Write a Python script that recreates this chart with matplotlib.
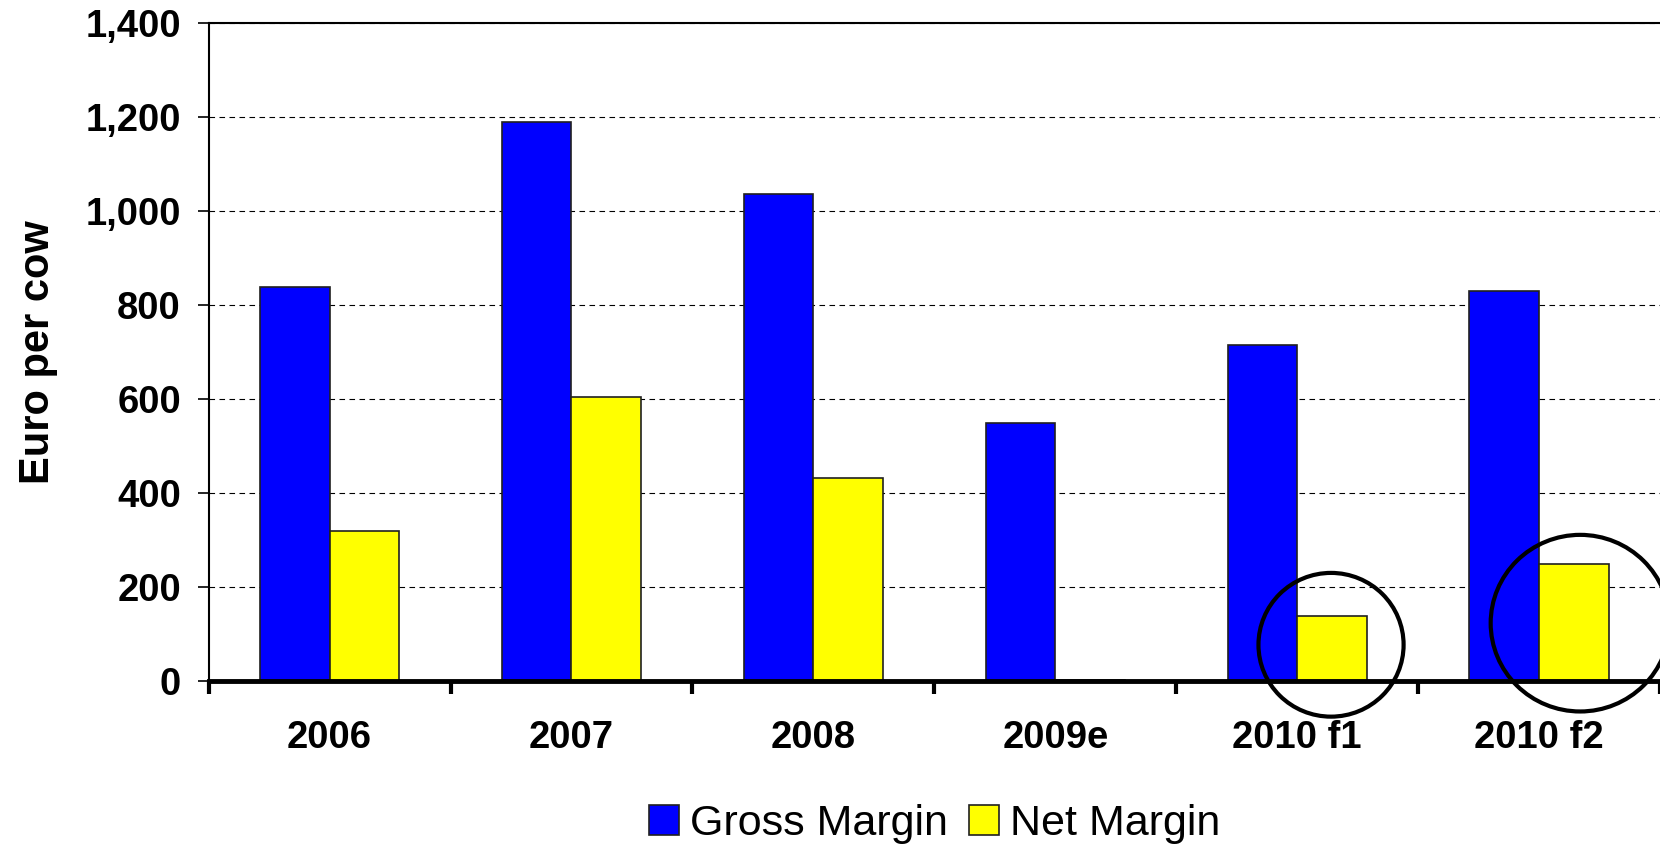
import numpy as np
import matplotlib
matplotlib.use("Agg")
import matplotlib.pyplot as plt
from matplotlib.patches import Ellipse
from matplotlib.ticker import FuncFormatter

# data
years = ["2006", "2007", "2008", "2009e", "2010 f1", "2010 f2"]
gross_margin = [838, 1190, 1037, 550, 715, 830]
net_margin = [320, 605, 431, 2, 138, 250]
y_ticks = [0, 200, 400, 600, 800, 1000, 1200, 1400]

# highlighted net margin forecasts (category offset, centre value, x radius, y radius)
circle_cats = [4, 5]
circle_dx = [0.14, 0.17]
circle_y = [77, 123]
circle_rx = [0.30, 0.37]
circle_ry = [153, 188]

plt.rcParams['font.family'] = ['Liberation Sans', 'DejaVu Sans']

fig = plt.figure(figsize=(16.6, 8.48), dpi=100)
ax = fig.add_axes([0.1257, 0.197, 0.8743, 0.7755])

x = np.arange(len(years))
w = 0.288
ax.bar(x - w, gross_margin, width=w, align='edge', color='#0000ff',
       edgecolor='#202020', linewidth=1.2, zorder=3, label='Gross Margin')
ax.bar(x, net_margin, width=w, align='edge', color='#ffff00',
       edgecolor='#202020', linewidth=1.2, zorder=3, label='Net Margin')

ax.set_xlim(-0.5, len(years) - 0.5)
ax.set_ylim(0, 1400)
ax.set_yticks(y_ticks)
ax.yaxis.set_major_formatter(FuncFormatter(lambda v, p: f"{int(v):,}"))
ax.grid(axis='y', color='black', linestyle=(0, (5, 4)), linewidth=0.8, zorder=1)

# category labels at the centres, tick marks at the boundaries
ax.set_xticks(x)
ax.set_xticklabels(years)
ax.set_xticks(np.arange(len(years) + 1) - 0.5, minor=True)
ax.tick_params(axis='x', which='major', length=0, pad=28)
ax.tick_params(axis='x', which='minor', length=9, width=3, direction='out')
ax.tick_params(axis='y', length=8, width=1.2, pad=12)
for lab in ax.get_xticklabels() + ax.get_yticklabels():
    lab.set_fontsize(27.5)
    lab.set_fontweight('bold')

ax.set_ylabel("Euro per cow", fontsize=30, fontweight='bold')
ax.yaxis.set_label_coords(-0.104, 0.5)

ax.spines['right'].set_visible(False)
ax.spines['bottom'].set_linewidth(3.5)
ax.spines['bottom'].set_zorder(5)
ax.spines['left'].set_linewidth(1.5)
ax.spines['top'].set_linewidth(1.5)

for c, dx, cy, rx, ry in zip(circle_cats, circle_dx, circle_y, circle_rx, circle_ry):
    ax.add_patch(Ellipse((c + dx, cy), 2 * rx, 2 * ry, fill=False,
                         edgecolor='black', linewidth=3, clip_on=False, zorder=6))

fig.legend(loc='center', bbox_to_anchor=(0.5629, 0.028), ncol=2, frameon=False,
           fontsize=31, handlelength=0.7, handleheight=0.7,
           handletextpad=0.25, columnspacing=0.5)

fig.savefig("out.png", dpi=100)
